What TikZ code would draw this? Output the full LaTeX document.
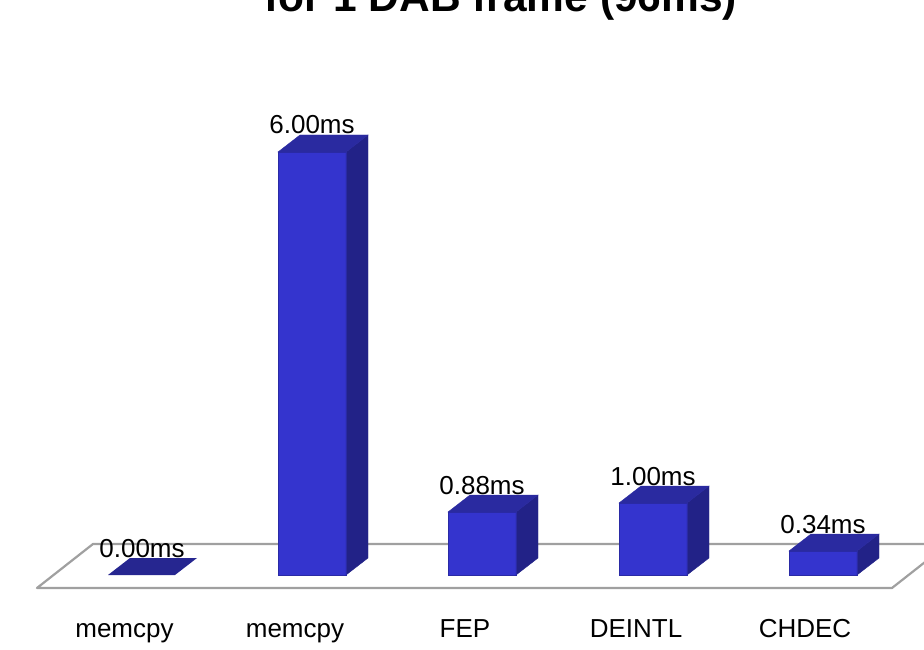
\documentclass[tikz,border=0pt]{standalone}
\usepackage{fontspec}
\setmainfont{Liberation Sans}
\definecolor{barfront}{RGB}{52,52,206}
\definecolor{bartop}{RGB}{42,42,160}
\definecolor{barside}{RGB}{34,34,135}
\definecolor{floorgray}{RGB}{160,160,160}
\begin{document}
\begin{tikzpicture}[x=1pt,y=-1pt,
  titlelabel/.style={anchor=base,inner sep=0pt,font=\fontsize{42.5}{48}\selectfont\bfseries},
  valuelabel/.style={anchor=base,inner sep=0pt,font=\fontsize{26}{30}\selectfont},
  catlabel/.style={anchor=base,inner sep=0pt,font=\fontsize{26}{30}\selectfont},
  floorline/.style={draw=floorgray,line width=2.2pt,line join=round},
  frontface/.style={fill=barfront,draw=barfront!80!black,line width=0.6pt},
  topface/.style={fill=bartop,draw=bartop,line width=0.4pt},
  sideface/.style={fill=barside,draw=barside,line width=0.4pt}]
\useasboundingbox (0,0) rectangle (924,650);
\clip (0,0) rectangle (924,650);

% title (its upper part lies above the page)
\node[titlelabel] (title) at (501,12) {for 1 DAB frame (96ms)};

% floor of the chart
\draw[floorline] (37,588) -- (892,588) -- (948,544) -- (93,544) -- cycle;

% bars: left edge / height in px / value / category / category centre
\foreach \bx/\bh/\val/\cat/\cx [count=\i] in {
    108/0/0.00ms/memcpy/124.5,
    278/423/6.00ms/memcpy/295,
    448/63/0.88ms/FEP/465,
    619/72/1.00ms/DEINTL/636,
    789/24/0.34ms/CHDEC/805}{
  \pgfmathsetmacro{\ty}{575-\bh}
  \pgfmathsetmacro{\bk}{575-\bh-17}
  \ifnum\bh>0
    \fill[frontface] (\bx,575) rectangle ({\bx+68},\ty);
    \fill[sideface] ({\bx+68},\ty) -- ({\bx+90},\bk) -- ({\bx+90},558) -- ({\bx+68},575) -- cycle;
    \fill[topface] (\bx,\ty) -- ({\bx+22},\bk) -- ({\bx+90},\bk) -- ({\bx+68},\ty) -- cycle;
    \draw[barfront!80!black,line width=0.6pt] (\bx,575) rectangle ({\bx+68},\ty);
  \else
    \fill[fill=bartop!90!black] (\bx,575) -- ({\bx+22},558) -- ({\bx+89},558) -- ({\bx+67},575) -- cycle;
  \fi
  \node[valuelabel] (val\i) at ({\bx+34},{\bk-1}) {\val};
  \node[catlabel] (cat\i) at (\cx,637) {\cat};
}
\end{tikzpicture}
\end{document}
